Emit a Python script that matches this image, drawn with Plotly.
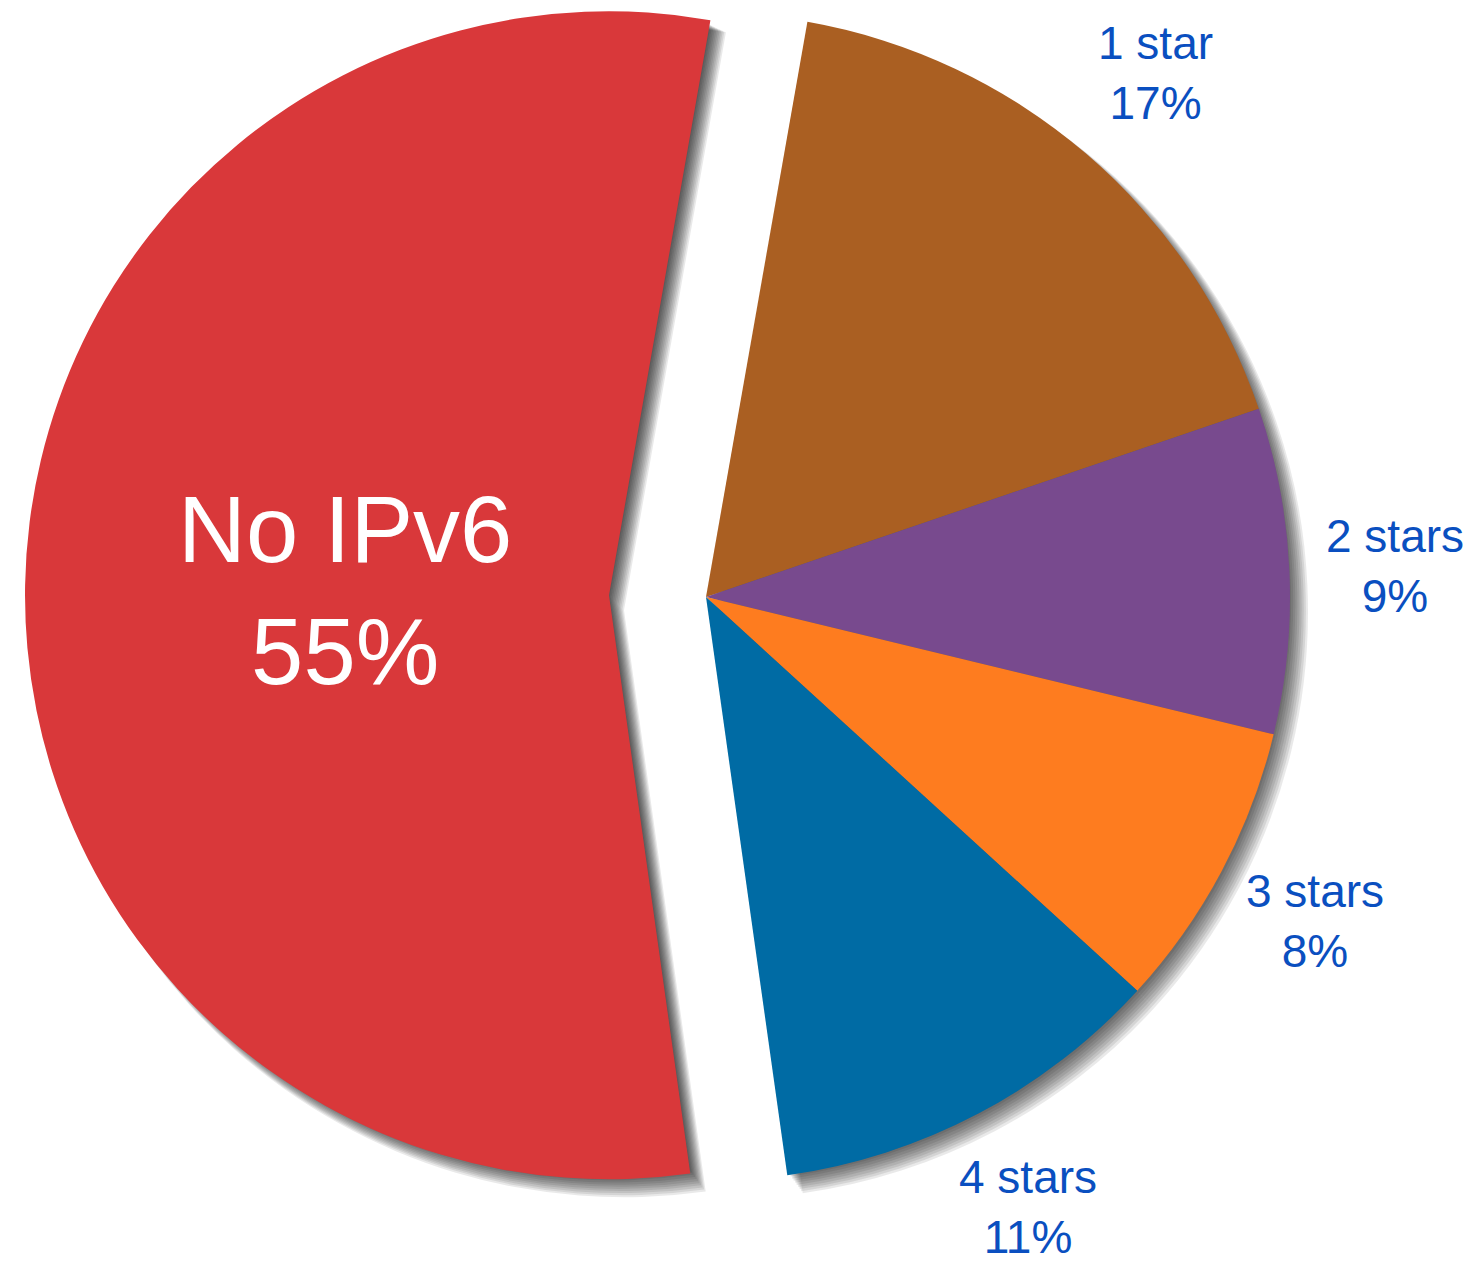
import math
import plotly.graph_objects as go

# data
labels = ["1 star", "2 stars", "3 stars", "4 stars", "No IPv6"]
shares = [17, 9, 8, 11, 55]
slice_colors = ["#AA5F22", "#784A8E", "#FE7C1F", "#006BA4", "#D9383A"]

W, H = 1484, 1262
R = 584
cx, cy = 698, 589          # centre of the pie (figure pixels)
PULL = 97                  # "No IPv6" slice is pulled out by this many px
START_ANGLE = 10           # first slice starts 10 deg clockwise from 12 o'clock
LABEL_R = 690              # outside labels sit on this radius
INNER_LABEL_R = 264

CLEAR = "rgba(0,0,0,0)"
FONT = "Liberation Sans, Arial, sans-serif"

# mid angle of each slice (clockwise from 12 o'clock)
mids = []
acc = 0
for v in shares:
    mids.append(START_ANGLE + (acc + v / 2) * 360 / sum(shares))
    acc += v


def polar(x0, y0, r, ang):
    a = math.radians(ang)
    return x0 + r * math.sin(a), y0 - r * math.cos(a)


red_cx, red_cy = polar(cx, cy, PULL, mids[4])


def dom(x0, y0, r):
    return dict(x=[(x0 - r) / W, (x0 + r) / W],
                y=[1 - (y0 + r) / H, 1 - (y0 - r) / H])


def pie(x0, y0, r, colors):
    return go.Pie(labels=labels, values=shares, sort=False, direction="clockwise",
                  rotation=START_ANGLE, domain=dom(x0, y0, r), showlegend=False,
                  textinfo="none", hoverinfo="label+percent",
                  marker=dict(colors=colors, line=dict(width=0)))


fig = go.Figure()

# soft drop shadow, built from faint grey layers
grey = "rgba(0,0,0,0.085)"
for k in range(11):
    off = 1 + 1.4 * k
    rad = R - 4 + 0.7 * k
    fig.add_trace(pie(cx + off, cy + off, rad, [grey] * 4 + [CLEAR]))
    fig.add_trace(pie(red_cx + off, red_cy + off, rad, [CLEAR] * 4 + [grey]))

fig.add_trace(pie(cx, cy, R, slice_colors[:4] + [CLEAR]))
fig.add_trace(pie(red_cx, red_cy, R, [CLEAR] * 4 + [slice_colors[4]]))

# slice labels
for i, (lab, v) in enumerate(zip(labels, shares)):
    if i < 4:
        x, y = polar(cx, cy, LABEL_R, mids[i])
        font = dict(family=FONT, size=46, color="#0A4FC0")
    else:
        x, y = polar(red_cx, red_cy, INNER_LABEL_R, mids[i])
        font = dict(family=FONT, size=94, color="white")
    fig.add_annotation(x=x / W, y=1 - y / H, xref="paper", yref="paper",
                       text=f"{lab}<br>{v}%", showarrow=False, font=font,
                       xanchor="center", yanchor="middle", align="center")

fig.update_layout(width=W, height=H, margin=dict(l=0, r=0, t=0, b=0),
                  paper_bgcolor="white", plot_bgcolor="white")

fig.write_html("out.html")
